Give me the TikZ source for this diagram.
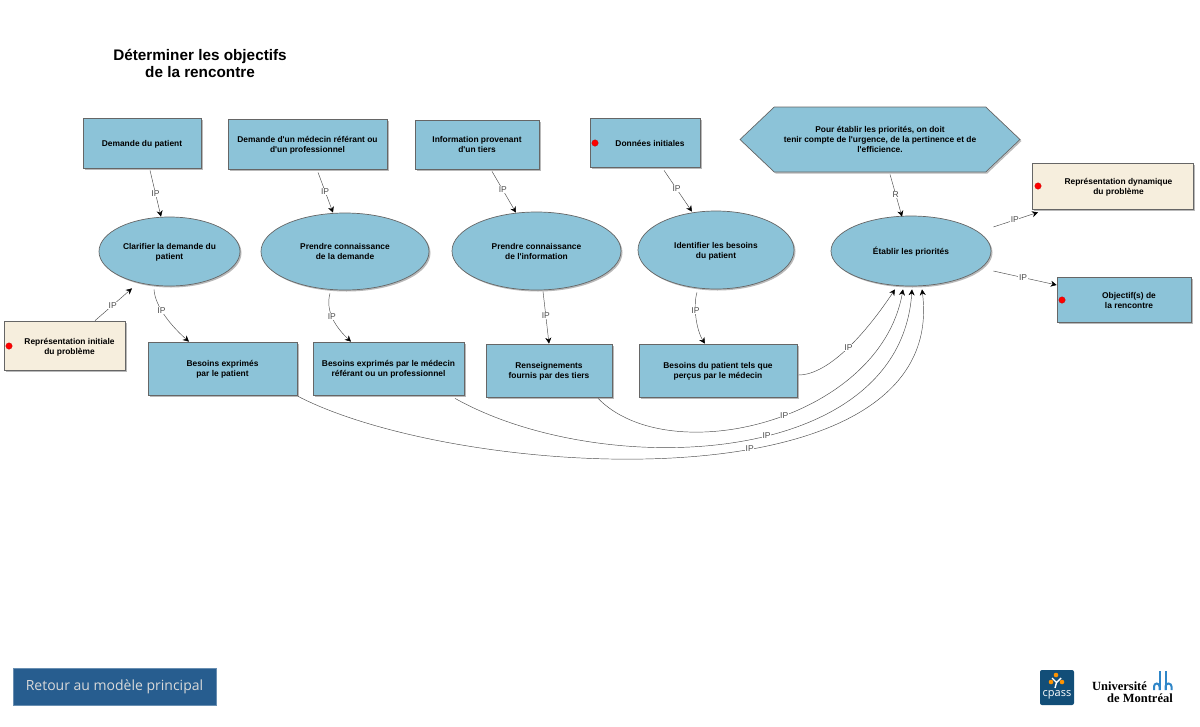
\documentclass[tikz,border=0pt]{standalone}
\usepackage{fontspec}
\setmainfont{Liberation Sans}
\newfontfamily\btnfont{Open Sans}
\newfontfamily\umfont{Liberation Serif}
\usetikzlibrary{calc,shapes.geometric,shapes.symbols,shadows,arrows.meta}
\definecolor{procblue}{HTML}{8CC3D8}
\definecolor{repcream}{HTML}{F6EEDD}
\definecolor{btnblue}{HTML}{275D8F}
\definecolor{cpassblue}{HTML}{124E78}
\definecolor{umblue}{HTML}{2F86C8}
\newcommand{\dottext}[1]{\hspace*{10pt}\begin{tabular}[b]{@{}c@{}}#1\end{tabular}}
\newcommand{\apos}{\textquotesingle{}}
\tikzset{
  boxshadow/.style={drop shadow={shadow xshift=1.5pt,shadow yshift=-1.5pt,fill=gray!55,opacity=1}},
  procbox/.style={draw=black!60,fill=procblue,line width=.7pt,align=center,font=\fontsize{8.4}{10}\selectfont\bfseries,inner sep=0pt,text depth=0pt,boxshadow},
  repbox/.style={procbox,fill=repcream},
  procell/.style={procbox,ellipse},
  hexbox/.style={procbox,signal,signal to=west and east,signal pointer angle=87,drop shadow={shadow xshift=0.7pt,shadow yshift=-0.7pt,fill=gray!40,opacity=1}},
  reddot/.style={circle,fill=red,draw=red!70!black,line width=.2pt,inner sep=0pt,minimum size=6.5pt},
  linkarr/.style={-{Stealth[length=6pt,width=6pt,black]},line width=.45pt,black!70},
  linklabel/.style={font=\fontsize{8.5}{10}\selectfont,text=black!70,fill=white,inner sep=.6pt},
  umarch/.style={umblue,line width=2pt}
}
\begin{document}
\begin{tikzpicture}[x=1pt,y=-1pt]
  \useasboundingbox (0,0) rectangle (1200,726);
  \node[font=\fontsize{15.3}{17}\selectfont\bfseries,align=center] (title) at (200,63) {Déterminer les objectifs\\de la rencontre};

  % top row
  \node[procbox,minimum width=118pt,minimum height=50pt] (dempat) at (142,143) {Demande du patient};
  \node[procbox,minimum width=159pt,minimum height=50pt] (demmed) at (307.5,144) {Demande d\apos un médecin référant ou\\d\apos un professionnel};
  \node[procbox,minimum width=124pt,minimum height=49pt] (inftie) at (477,144.5) {Information provenant\\d\apos un tiers};
  \node[procbox,minimum width=110pt,minimum height=49pt] (donini) at (645,142.5) {\dottext{Données initiales}};
  \node[hexbox,minimum width=280pt,minimum height=65pt] (regle) at (880,139.5) {Pour établir les priorités, on doit\\tenir compte de l\apos urgence, de la pertinence et de\\l\apos efficience.};

  % processes
  \node[procell,minimum width=141pt,minimum height=69pt] (clar) at (169.5,251.5) {Clarifier la demande du\\patient};
  \node[procell,minimum width=168pt,minimum height=77pt] (prdem) at (345,251.5) {Prendre connaissance\\de la demande};
  \node[procell,minimum width=169pt,minimum height=78pt] (prinf) at (536.5,251) {Prendre connaissance\\de l\apos information};
  \node[procell,minimum width=156pt,minimum height=78pt] (idbes) at (716,250) {Identifier les besoins\\du patient};
  \node[procell,minimum width=160pt,minimum height=70pt] (etab) at (911,251) {Établir les priorités};

  % results
  \node[repbox,minimum width=121pt,minimum height=49pt] (repini) at (64.5,345.5) {\dottext{Représentation initiale\\du problème}};
  \node[procbox,minimum width=149pt,minimum height=53pt] (bespat) at (222.5,368.5) {Besoins exprimés\\par le patient};
  \node[procbox,minimum width=151pt,minimum height=53pt] (besmed) at (388.5,368.5) {Besoins exprimés par le médecin\\référant ou un professionnel};
  \node[procbox,minimum width=126pt,minimum height=53pt] (rens) at (549,370.5) {Renseignements\\fournis par des tiers};
  \node[procbox,minimum width=158pt,minimum height=53pt] (besper) at (718,370.5) {Besoins du patient tels que\\perçus par le médecin};
  \node[repbox,minimum width=161pt,minimum height=46pt] (repdyn) at (1112.5,186) {\hspace*{2pt}\dottext{Représentation dynamique\\du problème}};
  \node[procbox,minimum width=134pt,minimum height=45pt] (objre) at (1124,299.5) {\dottext{Objectif(s) de\\la rencontre}};

  % red dots
  \node[reddot] (dotdon) at (595,143) {};
  \node[reddot] (dotini) at (9,346) {};
  \node[reddot] (dotdyn) at (1038,186) {};
  \node[reddot] (dotobj) at (1062,300) {};

  % connectors
  \draw[linkarr] ($(dempat.south)+(8,2)$) -- node[linklabel,pos=.5] (l1) {IP} ($(clar.north)+(-8.5,0)$);
  \draw[linkarr] ($(demmed.south)+(10.5,3)$) -- node[linklabel,pos=.47] (l2) {IP} ($(prdem.north)+(-12,0)$);
  \draw[linkarr] ($(inftie.south)+(15,2)$) -- node[linklabel,pos=.45] (l3) {IP} ($(prinf.north)+(-20.5,1)$);
  \draw[linkarr] ($(donini.south)+(19,3)$) -- node[linklabel,pos=.45] (l4) {IP} ($(idbes.north)+(-24,1)$);
  \draw[linkarr] ($(regle.south)+(10,2)$) -- node[linklabel,pos=.47] (l5) {R} ($(etab.north)+(-9,1)$);
  \draw[linkarr] ($(repini.north)+(30.5,0)$) -- node[linklabel,pos=.48] (l6) {IP} ($(clar.south)+(-37.5,2)$);
  \draw[linkarr] ($(clar.south)+(-15.5,3)$) .. controls +(1,18) and +(-16,-14) .. node[linklabel,pos=.38] (l7) {IP} ($(bespat.north)+(-33.5,0)$);
  \draw[linkarr] ($(prdem.south)+(-15,3)$) .. controls +(-5,18) and +(-15,-14) .. node[linklabel,pos=.45] (l8) {IP} ($(besmed.north)+(-37.5,0)$);
  \draw[linkarr] ($(prinf.south)+(6.5,1)$) -- node[linklabel,pos=.47] (l9) {IP} (rens.north);
  \draw[linkarr] ($(idbes.south)+(-19,3)$) .. controls +(-4,13) and +(-9,-14) .. node[linklabel,pos=.38] (l10) {IP} ($(besper.north)+(-13,0)$);
  \draw[linkarr] ($(etab.east)+(2,-24)$) -- node[linklabel,pos=.48] (l11) {IP} ($(repdyn.south)+(-74.5,3)$);
  \draw[linkarr] ($(etab.east)+(2,20)$) -- node[linklabel,pos=.47] (l12) {IP} ($(objre.west)+(0,-14.5)$);
  \draw[linkarr] ($(besper.east)+(1,4.5)$) .. controls (830,375) and (868,330) .. node[linklabel,pos=.5] (l13) {IP} ($(etab.south)+(-16,3)$);
  \draw[linkarr] ($(rens.south)+(49,1)$) .. controls (670,472) and (880,420) .. node[linklabel,pos=.54] (l14) {IP} ($(etab.south)+(-8,3)$);
  \draw[linkarr] ($(besmed.south)+(66.5,3)$) .. controls (600,480) and (900,470) .. node[linklabel,pos=.56] (l15) {IP} ($(etab.south)+(1,3)$);
  \draw[linkarr] ($(bespat.south)+(75.5,1)$) .. controls (460,480) and (950,510) .. node[linklabel,pos=.585] (l16) {IP} ($(etab.south)+(11,3)$);

  % button
  \node[fill=btnblue,draw=btnblue!70,line width=.4pt,minimum width=203pt,minimum height=37.5pt,inner sep=0pt,text=white!85!black,font=\btnfont\fontsize{14}{15}\selectfont] (retour) at (114.5,686.5) {\raisebox{-1.5pt}{Retour au modèle principal}};

  % logos
  \node[fill=cpassblue,rounded corners=2pt,minimum width=34pt,minimum height=35pt,inner sep=0pt] (cpass) at (1057,687.5) {};
  \node[text=white,font=\btnfont\fontsize{11}{12}\selectfont,inner sep=0pt] (cpasstxt) at (1057,694.5) {cpass};
  \fill[orange!85!yellow] (1056,675) circle (2.3) (1051,682) circle (2.3) (1062,682) circle (2.3);
  \draw[white,line width=1.4pt] (1052,678) -- (1056.5,682.5) -- (1061,678) (1056.5,682.5) -- (1055,688);
  \node[font=\umfont\bfseries\fontsize{12.5}{12}\selectfont,inner sep=0pt] (umun) at (1119.5,686.5) {Université};
  \node[font=\umfont\bfseries\fontsize{12.5}{12}\selectfont,inner sep=0pt] (umde) at (1140,698) {de Montréal};
  \draw[umarch] (1159.5,671) -- (1159.5,690) (1165.5,671) -- (1165.5,690);
  \draw[umarch] (1154,690) -- (1154,686.5) arc (180:360:2.75 and 3) -- (1159.5,690);
  \draw[umarch] (1165.5,690) -- (1165.5,686.5) arc (180:360:3 and 3) -- (1171.5,690);
\end{tikzpicture}
\end{document}
